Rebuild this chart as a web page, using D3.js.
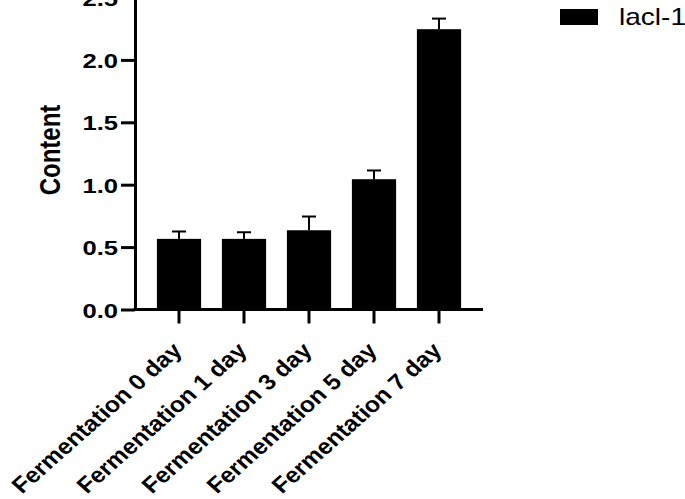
<!DOCTYPE html>
<html><head><meta charset="utf-8">
<script src="https://cdn.jsdelivr.net/npm/d3@7"></script>
<style>html,body{margin:0;padding:0;background:#fff;overflow:hidden}</style>
</head><body>
<svg id="c" width="685" height="499"></svg>
<script>
const categories = ["Fermentation 0 day","Fermentation 1 day","Fermentation 3 day","Fermentation 5 day","Fermentation 7 day"];
const means = [0.566, 0.566, 0.635, 1.044, 2.246];
const errors = [0.059, 0.053, 0.11, 0.07, 0.085];
const yTicks = [0, 0.5, 1.0, 1.5, 2.0, 2.5];
const seriesName = "lacl-1";

const sx = 1.22;
const sxLab = 1.13;
const font = "'Liberation Sans', Arial, Helvetica, sans-serif";
const svg = d3.select("#c");
const x = d3.scaleBand().domain(categories).range([135, 483]).paddingInner(0.32).paddingOuter(0.337);
const y = d3.scaleLinear().domain([0, 2.5]).range([309.5, -2.5]);

// bars
svg.append("g").selectAll("rect").data(categories).join("rect")
  .attr("x", d => x(d)).attr("width", x.bandwidth())
  .attr("y", (d,i) => y(means[i])).attr("height", (d,i) => y(0) - y(means[i]))
  .attr("fill", "#000");

// error bars
const eb = svg.append("g").attr("stroke", "#000").attr("stroke-width", 2);
categories.forEach((c,i) => {
  const cx = x(c) + x.bandwidth()/2;
  eb.append("line").attr("x1", cx).attr("x2", cx).attr("y1", y(means[i])).attr("y2", y(means[i] + errors[i]));
  eb.append("line").attr("x1", cx - 7).attr("x2", cx + 7).attr("y1", y(means[i] + errors[i])).attr("y2", y(means[i] + errors[i]));
});

// y axis
const ya = svg.append("g").attr("transform", "translate(135,0)")
  .call(d3.axisLeft(y).tickValues(yTicks).tickFormat(d3.format(".1f")).tickSize(14).tickSizeOuter(0));
ya.select(".domain").attr("stroke-width", 3);
ya.selectAll(".tick line").attr("stroke-width", 3);
ya.selectAll(".tick text").attr("x", 0).attr("dy", "0.36em")
  .attr("transform", `translate(-17,0) scale(${sx},1)`)
  .attr("font-family", font).attr("font-weight", "bold").attr("font-size", 21).attr("fill", "#000");

// x axis
const xa = svg.append("g").attr("transform", `translate(0,${y(0)})`)
  .call(d3.axisBottom(x).tickSize(14).tickSizeOuter(0));
xa.select(".domain").attr("stroke-width", 3).attr("d", `M133.5,0H483`);
xa.selectAll(".tick line").attr("stroke-width", 3);
xa.selectAll(".tick text").attr("y", 0).attr("dy", "0.35em").attr("text-anchor", "end")
  .attr("transform", `translate(-2,37) scale(${sxLab},1) rotate(-45)`)
  .attr("font-family", font).attr("font-weight", "bold").attr("font-size", 22).attr("fill", "#000");

// y label
svg.append("text").attr("transform", `translate(60,150) scale(${sx},1) rotate(-90)`)
  .attr("text-anchor", "middle").attr("font-family", font).attr("font-weight", "bold")
  .attr("font-size", 24).text("Content");

// legend
svg.append("rect").attr("x", 560).attr("y", 9).attr("width", 38).attr("height", 16).attr("fill", "#000");
svg.append("text").attr("transform", `translate(619,25) scale(${sx},1)`)
  .attr("font-family", font).attr("font-size", 23).text(seriesName);
</script>
</body></html>
